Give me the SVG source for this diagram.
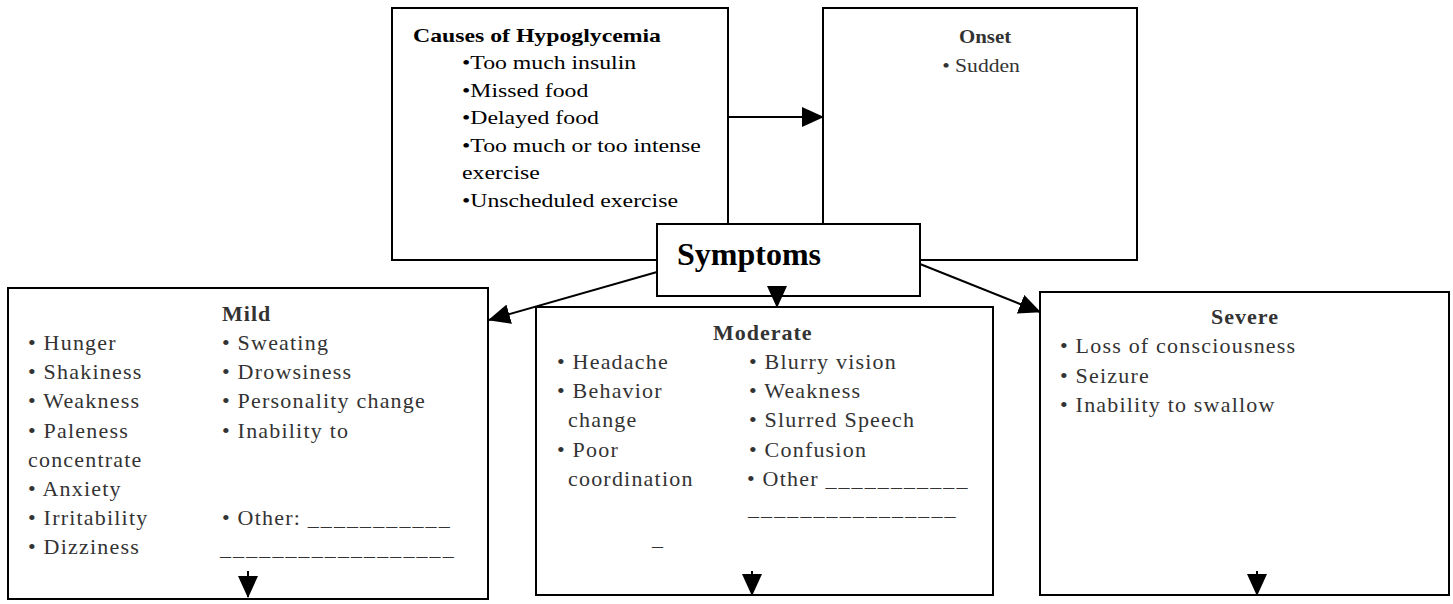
<svg xmlns="http://www.w3.org/2000/svg" width="1453" height="604" viewBox="0 0 1453 604">
<defs>
<style>
.box{fill:#fff;stroke:#000;stroke-width:2}
.top{font-family:"Liberation Serif","Times New Roman",serif;font-size:19px;fill:#000}
.topb{font-family:"Liberation Serif","Times New Roman",serif;font-size:19px;font-weight:bold;fill:#000}
.on{font-family:"Liberation Serif","Times New Roman",serif;font-size:18px;fill:#333}
.onb{font-family:"Liberation Serif","Times New Roman",serif;font-size:19px;font-weight:bold;fill:#333}
.sym{font-family:"Liberation Serif","Times New Roman",serif;font-size:32px;font-weight:bold;fill:#000}
.hd{font-family:"Liberation Serif","Times New Roman",serif;font-size:22px;font-weight:bold;fill:#333;letter-spacing:1px}
.tx{font-family:"Liberation Serif","Times New Roman",serif;font-size:22px;fill:#333;letter-spacing:1.2px}
.ul{letter-spacing:2.1px}
.conn{stroke:#000;stroke-width:2;fill:none;marker-end:url(#ah)}
</style>
<marker id="ah" markerUnits="userSpaceOnUse" markerWidth="22" markerHeight="20" viewBox="0 0 22 20" refX="21" refY="10" orient="auto">
<path d="M0,0 L22,10 L0,20 Z" fill="#000"/>
</marker>
</defs>
<rect width="1453" height="604" fill="#fff"/>

<g id="causes">
<rect class="box" x="392" y="8" width="336" height="252"/>
<text class="topb" transform="matrix(1.25 0 0 1 413 42)">Causes of Hypoglycemia</text>
<text class="top" transform="matrix(1.25 0 0 1 462 69)">•Too much insulin</text>
<text class="top" transform="matrix(1.25 0 0 1 462 96.5)">•Missed food</text>
<text class="top" transform="matrix(1.25 0 0 1 462 124)">•Delayed food</text>
<text class="top" transform="matrix(1.25 0 0 1 462 151.5)">•Too much or too intense</text>
<text class="top" transform="matrix(1.25 0 0 1 462 179)">exercise</text>
<text class="top" transform="matrix(1.25 0 0 1 462 206.5)">•Unscheduled exercise</text>
</g>

<g id="onset">
<rect class="box" x="823" y="8" width="314" height="252"/>
<text class="onb" text-anchor="middle" transform="matrix(1.1 0 0 1 985 43)">Onset</text>
<text class="on" text-anchor="middle" transform="matrix(1.2 0 0 1 981 72)">• Sudden</text>
</g>

<g id="symptoms">
<rect class="box" x="657" y="224" width="263" height="72"/>
<text class="sym" x="677" y="265">Symptoms</text>
</g>

<g id="mild">
<rect class="box" x="8" y="288" width="480" height="311"/>
<text class="hd" x="222" y="321">Mild</text>
<text class="tx" x="28" y="350">• Hunger</text>
<text class="tx" x="28" y="379">• Shakiness</text>
<text class="tx" x="28" y="408">• Weakness</text>
<text class="tx" x="28" y="438">• Paleness</text>
<text class="tx" x="28" y="467">concentrate</text>
<text class="tx" x="28" y="496">• Anxiety</text>
<text class="tx" x="28" y="525">• Irritability</text>
<text class="tx" x="28" y="554">• Dizziness</text>
<text class="tx" x="222" y="350">• Sweating</text>
<text class="tx" x="222" y="379">• Drowsiness</text>
<text class="tx" x="222" y="408">• Personality change</text>
<text class="tx" x="222" y="438">• Inability to</text>
<text class="tx" x="222" y="525">• Other: <tspan class="ul">___________</tspan></text>
<text class="tx ul" x="220" y="555">__________________</text>
</g>

<g id="moderate">
<rect class="box" x="536" y="307" width="457" height="288"/>
<text class="hd" x="713" y="340">Moderate</text>
<text class="tx" x="557" y="369">• Headache</text>
<text class="tx" x="557" y="398">• Behavior</text>
<text class="tx" x="568" y="427">change</text>
<text class="tx" x="557" y="457">• Poor</text>
<text class="tx" x="568" y="486">coordination</text>
<text class="tx" x="652" y="545">_</text>
<text class="tx" x="749" y="369">• Blurry vision</text>
<text class="tx" x="749" y="398">• Weakness</text>
<text class="tx" x="749" y="427">• Slurred Speech</text>
<text class="tx" x="749" y="457">• Confusion</text>
<text class="tx" x="747" y="486">• Other <tspan class="ul">___________</tspan></text>
<text class="tx ul" x="748" y="515">________________</text>
</g>

<g id="severe">
<rect class="box" x="1040" y="292" width="409" height="303"/>
<text class="hd" x="1211" y="324">Severe</text>
<text class="tx" x="1060" y="353">• Loss of consciousness</text>
<text class="tx" x="1060" y="383">• Seizure</text>
<text class="tx" x="1060" y="412">• Inability to swallow</text>
</g>

<g id="connectors">
<line class="conn" x1="728" y1="117" x2="823" y2="117"/>
<line class="conn" x1="657" y1="272" x2="489" y2="320"/>
<line class="conn" x1="777" y1="287" x2="777" y2="307"/>
<line class="conn" x1="920" y1="264" x2="1040" y2="312"/>
<line class="conn" x1="248" y1="571" x2="248" y2="597"/>
<line class="conn" x1="752" y1="571" x2="752" y2="595"/>
<line class="conn" x1="1257" y1="571" x2="1257" y2="595"/>
</g>
</svg>
